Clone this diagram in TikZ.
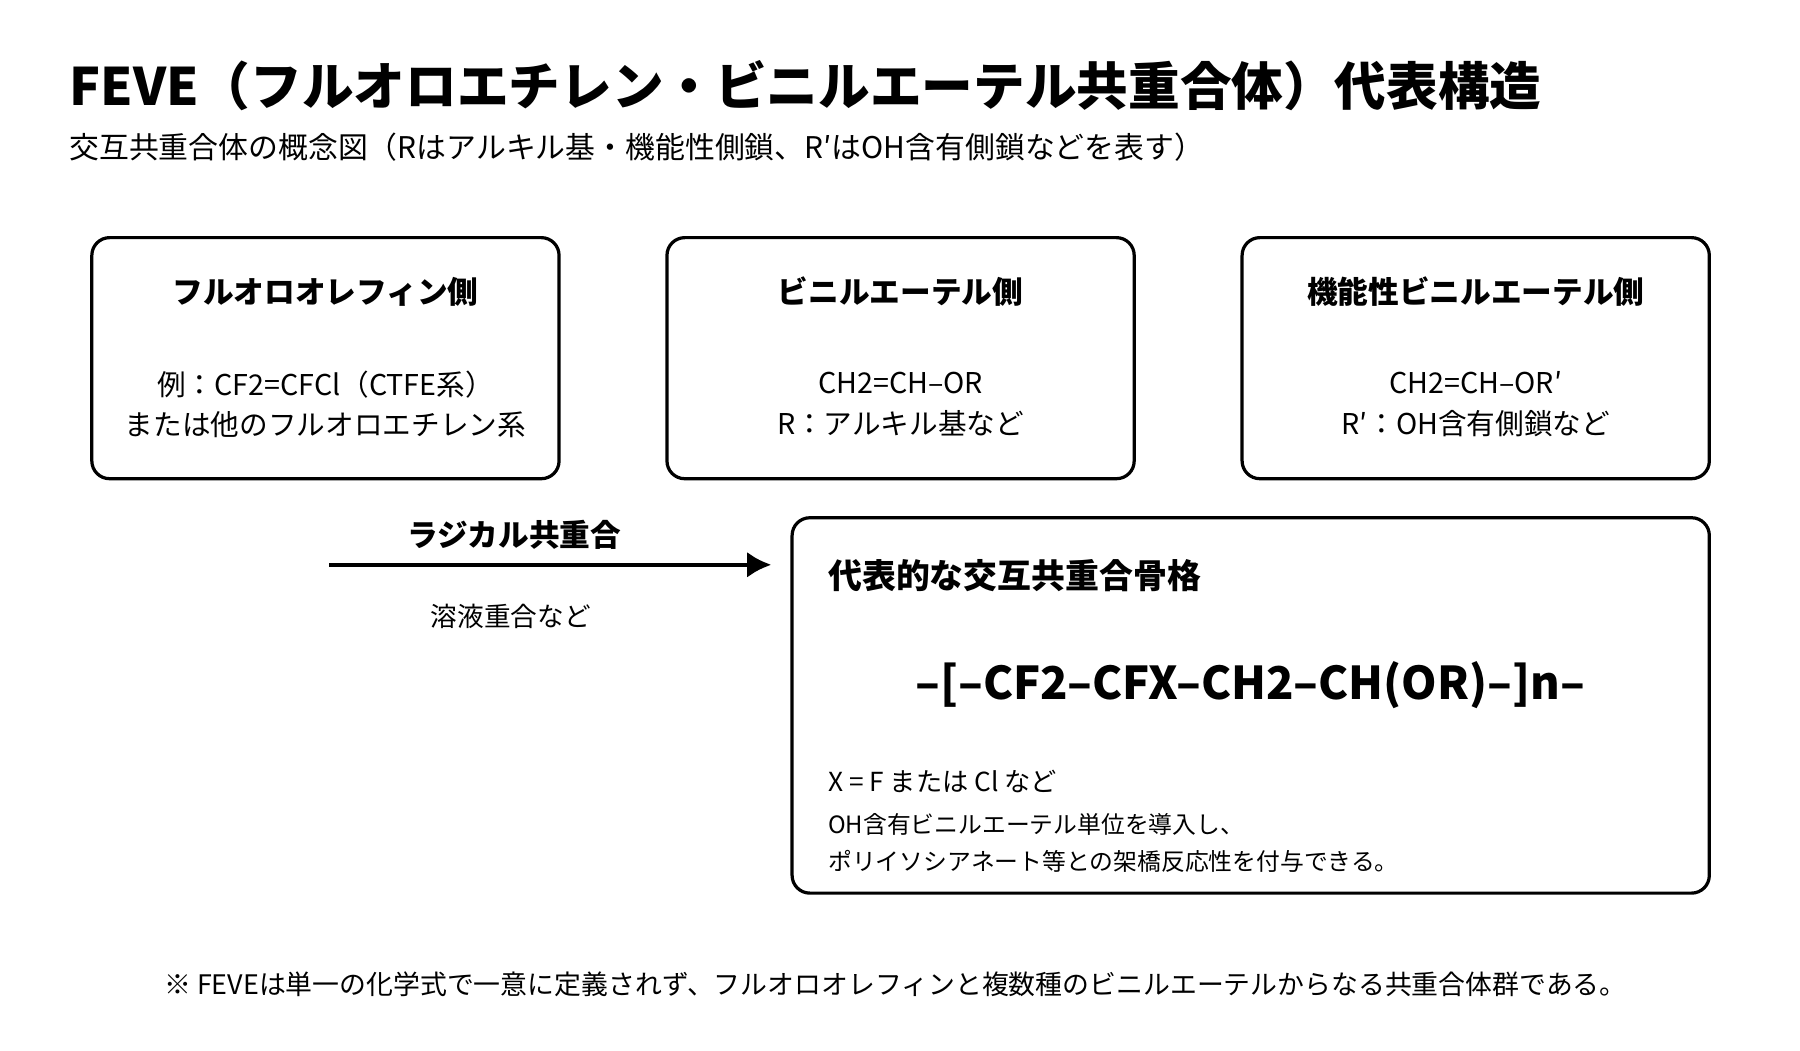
\documentclass[tikz,border=0pt]{standalone}
\usepackage{fontspec}
\usetikzlibrary{arrows.meta}
\setmainfont{Noto Sans CJK JP}
\begin{document}
\begin{tikzpicture}[x=0.05cm,y=-0.05cm,
 box/.style={draw,line width=4pt,rounded corners=22pt},
 hd/.style={font=\fontsize{38}{44}\selectfont\bfseries},
 bd/.style={font=\fontsize{35.5}{50}\selectfont,align=center},
 nt/.style={font=\fontsize{32.5}{40}\selectfont,anchor=west}]
\useasboundingbox (0,0) rectangle (1568,915);
\node[anchor=west,font=\fontsize{64}{70}\selectfont\bfseries] (title) at (58,75) {FEVE（フルオロエチレン・ビニルエーテル共重合体）代表構造};
\node[anchor=west,font=\fontsize{37}{40}\selectfont] (sub) at (58,128) {交互共重合体の概念図（Rはアルキル基・機能性側鎖、R′はOH含有側鎖などを表す）};
\draw[box] (80,207) rectangle (487,417);
\draw[box] (581,207) rectangle (988,417);
\draw[box] (1082,207) rectangle (1489,417);
\draw[box] (690,451) rectangle (1489,778);
\node[hd] (h1) at (283.5,254) {フルオロオレフィン側};
\node[hd] (h2) at (784.5,254) {ビニルエーテル側};
\node[hd] (h3) at (1285.5,254) {機能性ビニルエーテル側};
\node[bd] (b1) at (283.5,352) {例：CF2=CFCl（CTFE系）\\または他のフルオロエチレン系};
\node[bd] (b2) at (784.5,352) {CH2=CH–OR\\R：アルキル基など};
\node[bd] (b3) at (1285.5,352) {CH2=CH–OR′\\R′：OH含有側鎖など};
\coordinate (a0) at (287,492);
\coordinate (a1) at (672,492);
\draw[line width=5.5pt,-{Latex[length=30pt,width=32pt]}] (a0) -- (a1);
\node[hd] (rl) at (448,466) {ラジカル共重合};
\node[font=\fontsize{33}{40}\selectfont] (sl) at (445,537) {溶液重合など};
\node[hd,anchor=west,font=\fontsize{42}{44}\selectfont\bfseries] (h4) at (719,501) {代表的な交互共重合骨格};
\node[font=\fontsize{56}{64}\selectfont\bfseries] (f) at (1089,597) {–[–CF2–CFX–CH2–CH(OR)–]n–};
\node[nt] (n1) at (719,681) {X = F または Cl など};
\node[nt,font=\fontsize{29.5}{36}\selectfont] (n2) at (719,718) {OH含有ビニルエーテル単位を導入し、};
\node[nt,font=\fontsize{29.5}{36}\selectfont] (n3) at (719,750) {ポリイソシアネート等との架橋反応性を付与できる。};
\node[font=\fontsize{33.3}{40}\selectfont] (fn) at (780,857) {※ FEVEは単一の化学式で一意に定義されず、フルオロオレフィンと複数種のビニルエーテルからなる共重合体群である。};
\end{tikzpicture}
\end{document}
